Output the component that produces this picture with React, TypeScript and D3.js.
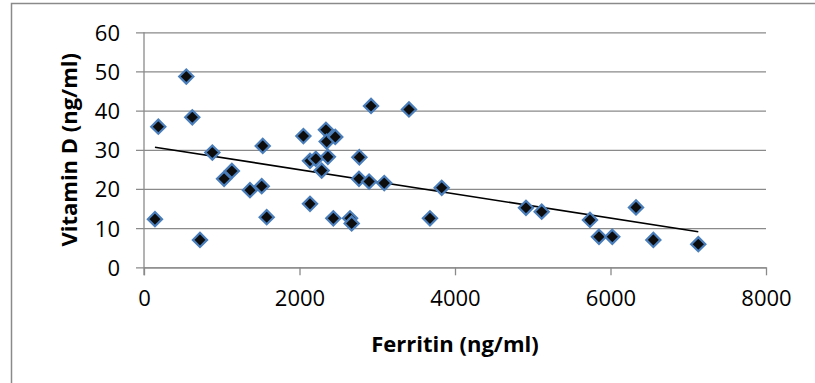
import { useEffect, useRef } from "react";
import * as d3 from "d3";

// Ferritin (ng/ml) vs Vitamin D (ng/ml)
const ferritin = [
  141, 184, 544, 621, 720, 879, 1030, 1130, 1363, 1514, 1527, 1578, 2050, 2135,
  2135, 2210, 2285, 2340, 2350, 2365, 2435, 2460, 2650, 2671, 2770, 2765, 2895,
  2920, 3090, 3408, 3678, 3829, 4913, 5115, 5736, 5852, 6023, 6328, 6551, 7129,
];
const vitaminD = [
  12.3, 35.9, 48.7, 38.3, 7.0, 29.3, 22.6, 24.6, 19.7, 20.7, 31.0, 12.8, 33.5,
  16.2, 27.2, 27.7, 24.7, 35.1, 32.1, 28.2, 12.5, 33.3, 12.5, 11.2, 28.1, 22.6,
  21.9, 41.2, 21.5, 40.3, 12.5, 20.3, 15.2, 14.2, 12.1, 7.8, 7.8, 15.3, 7.0, 5.9,
];
// linear trendline as shown on the chart
const trendIntercept = 31.1;
const trendSlope = -0.00309;

const xTicks = [0, 2000, 4000, 6000, 8000];
const yTicks = [0, 10, 20, 30, 40, 50, 60];

const FONT = "'Open Sans', 'Noto Sans', sans-serif";
const GRID = "#8a8a8a";

export default function App() {
  const ref = useRef<SVGSVGElement>(null);

  useEffect(() => {
    const svg = d3.select(ref.current);
    svg.selectAll("*").remove();

    const width = 815;
    const height = 383;
    const plot = { left: 144, right: 766, top: 32.3, bottom: 267.3 };

    const x = d3.scaleLinear().domain([0, 8000]).range([plot.left, plot.right]);
    const y = d3.scaleLinear().domain([0, 60]).range([plot.bottom, plot.top]);

    svg.append("rect").attr("width", width).attr("height", height).attr("fill", "#fff");

    // outer chart frame (runs off the right and bottom edges)
    svg
      .append("rect")
      .attr("x", 11.5)
      .attr("y", 3.5)
      .attr("width", 900)
      .attr("height", 500)
      .attr("fill", "none")
      .attr("stroke", GRID)
      .attr("stroke-width", 1.5);

    // horizontal gridlines + y ticks
    const yAxis = d3
      .axisLeft(y)
      .tickValues(yTicks)
      .tickSize(plot.right - plot.left + 8)
      .tickPadding(16)
      .tickFormat((d) => String(d));
    const gy = svg
      .append("g")
      .attr("transform", `translate(${plot.right},0)`)
      .call(yAxis);
    gy.select(".domain").remove();
    gy.selectAll(".tick line").attr("stroke", GRID).attr("stroke-width", 1.3);
    gy.selectAll(".tick text")
      .attr("font-family", FONT)
      .attr("font-size", 22)
      .attr("fill", "#000")
      .attr("dx", 0)
      .attr("dy", "0.36em");

    // x axis
    const xAxis = d3
      .axisBottom(x)
      .tickValues(xTicks)
      .tickSize(8)
      .tickSizeOuter(0)
      .tickPadding(15)
      .tickFormat((d) => String(d));
    const gx = svg
      .append("g")
      .attr("transform", `translate(0,${plot.bottom})`)
      .call(xAxis);
    gx.select(".domain").attr("stroke", GRID).attr("stroke-width", 1.3);
    gx.selectAll(".tick line").attr("stroke", GRID).attr("stroke-width", 1.3);
    gx.selectAll(".tick text")
      .attr("font-family", FONT)
      .attr("font-size", 22)
      .attr("fill", "#000")
      .attr("dy", "0.71em");

    // y axis line
    svg
      .append("line")
      .attr("x1", plot.left)
      .attr("x2", plot.left)
      .attr("y1", plot.top)
      .attr("y2", plot.bottom + 8)
      .attr("stroke", GRID)
      .attr("stroke-width", 1.3);

    // trendline
    const [xMin, xMax] = d3.extent(ferritin) as [number, number];
    const trend = d3
      .line<number>()
      .x((d) => x(d))
      .y((d) => y(trendIntercept + trendSlope * d));
    svg
      .append("path")
      .datum([xMin, xMax])
      .attr("d", trend)
      .attr("fill", "none")
      .attr("stroke", "#000")
      .attr("stroke-width", 1.6);

    // diamond markers
    const diamond = d3.symbol().type(d3.symbolDiamond2).size(128);
    svg
      .append("g")
      .selectAll("path")
      .data(ferritin.map((f, i) => ({ f, v: vitaminD[i] })))
      .join("path")
      .attr("d", diamond)
      .attr("transform", (d) => `translate(${x(d.f)},${y(d.v)})`)
      .attr("fill", "#0d0d0d")
      .attr("stroke", "#4a7ebb")
      .attr("stroke-width", 2.2);

    // axis titles
    svg
      .append("text")
      .attr("x", (plot.left + plot.right) / 2)
      .attr("y", 352)
      .attr("text-anchor", "middle")
      .attr("font-family", FONT)
      .attr("font-weight", "bold")
      .attr("font-size", 22)
      .text("Ferritin (ng/ml)");

    svg
      .append("text")
      .attr("transform", `translate(77,${(plot.top + plot.bottom) / 2}) rotate(-90)`)
      .attr("text-anchor", "middle")
      .attr("font-family", FONT)
      .attr("font-weight", "bold")
      .attr("font-size", 22)
      .text("Vitamin D (ng/ml)");
  }, []);

  return (
    <svg
      ref={ref}
      width="815"
      height="383"
      style={{ position: "absolute", left: 0, top: 0 }}
    ></svg>
  );
}
